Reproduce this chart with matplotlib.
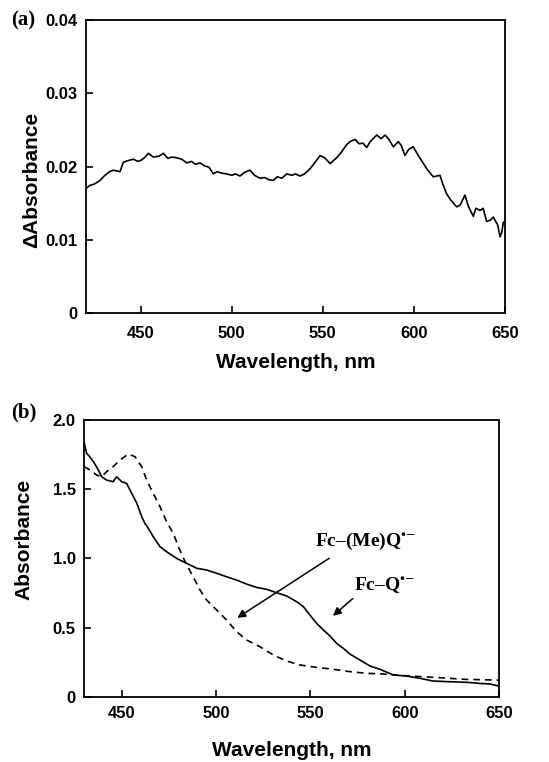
import matplotlib
matplotlib.use("Agg")
import matplotlib.pyplot as plt

# Panel (a): difference spectrum
wl_a = [420, 422, 424.5, 427.7, 430.4, 433, 435, 438.7, 440.5, 443,
        446, 448.5, 450.6, 452.5, 454.2, 457, 460, 462.5, 465, 467,
        469.8, 472.5, 475.3, 478, 480, 482.6, 485, 487.5, 489.9, 492,
        494.5, 497.2, 500, 502, 504.5, 507, 510, 512.5, 515.5, 518,
        520.5, 522.8, 525, 527.5, 530.2, 533, 535, 537.5, 540, 543,
        545.5, 548.5, 551, 554, 557.6, 560, 563.1, 565, 567.7, 570,
        572, 574.1, 576, 579.6, 582, 584.1, 586, 588.7, 591.4, 593,
        595.1, 597, 599.6, 602.4, 605, 607, 610.6, 614.3, 616, 617.9,
        620, 623.4, 625.3, 628, 630, 632.6, 634, 636.3, 638, 639.9,
        642, 643.6, 646, 647.3, 648.2, 649.1, 650]
dA = [0.0170, 0.0174, 0.0176, 0.0181, 0.0188, 0.0193, 0.0195, 0.0193, 0.0206, 0.0208,
      0.0210, 0.0207, 0.0209, 0.0213, 0.0218, 0.0213, 0.0214, 0.0218, 0.0211, 0.0213,
      0.0212, 0.0210, 0.0205, 0.0207, 0.0203, 0.0205, 0.0201, 0.0199, 0.0190, 0.0193,
      0.0191, 0.0190, 0.0188, 0.0190, 0.0187, 0.0192, 0.0195, 0.0188, 0.0184, 0.0185,
      0.0182, 0.0181, 0.0186, 0.0184, 0.0190, 0.0188, 0.0190, 0.0187, 0.0190, 0.0197,
      0.0205, 0.0215, 0.0212, 0.0204, 0.0212, 0.0219, 0.0230, 0.0234, 0.0237, 0.0231,
      0.0232, 0.0226, 0.0234, 0.0243, 0.0238, 0.0243, 0.0238, 0.0227, 0.0234, 0.0229,
      0.0215, 0.0223, 0.0227, 0.0215, 0.0205, 0.0197, 0.0186, 0.0188, 0.0175, 0.0163,
      0.0155, 0.0145, 0.0147, 0.0161, 0.0145, 0.0132, 0.0143, 0.0140, 0.0143, 0.0125,
      0.0127, 0.0131, 0.0120, 0.0104, 0.0110, 0.0124, 0.0124]

# Panel (b): absorption spectra
wl_solid = [430, 431.4, 433, 435, 437.6, 439.4, 442, 445.5, 447.3, 450,
            452.6, 455.3, 458, 460.6, 462.3, 464.1, 466.7, 470.3, 473.8, 479.1,
            484.4, 489.8, 495, 500.3, 505.6, 510.9, 516.2, 521.5, 526.8, 532.1,
            537.4, 542.7, 546.3, 549.8, 553.3, 556.9, 560.4, 563.9, 567.5, 571,
            576.3, 581.6, 586.9, 594, 601, 608.1, 615.2, 624, 632.8, 639.9,
            645.2, 650]
abs_solid = [1.843, 1.759, 1.735, 1.699, 1.639, 1.590, 1.566, 1.554, 1.590, 1.554,
             1.542, 1.470, 1.398, 1.301, 1.253, 1.217, 1.157, 1.084, 1.048, 1.000,
             0.964, 0.928, 0.916, 0.892, 0.867, 0.843, 0.814, 0.790, 0.776, 0.752,
             0.728, 0.687, 0.651, 0.590, 0.530, 0.482, 0.439, 0.386, 0.349, 0.308,
             0.265, 0.222, 0.198, 0.157, 0.149, 0.133, 0.113, 0.108, 0.104, 0.096,
             0.092, 0.077]
wl_dash = [430, 433.2, 436.7, 439.4, 442, 445.5, 449.1, 453.5, 457, 460.6,
           463.2, 466.7, 470.3, 473.8, 477.3, 480.8, 484.4, 487.9, 491.5, 495,
           500.3, 505.6, 510.9, 516.2, 523.3, 530.4, 537.4, 544.5, 553.3, 562.2,
           571, 579.9, 588.7, 597.5, 615.2, 632.8, 650]
abs_dash = [1.663, 1.639, 1.602, 1.590, 1.627, 1.663, 1.711, 1.754, 1.735, 1.663,
            1.566, 1.470, 1.373, 1.265, 1.181, 1.060, 0.952, 0.867, 0.771, 0.699,
            0.627, 0.554, 0.470, 0.410, 0.361, 0.301, 0.258, 0.229, 0.212, 0.198,
            0.181, 0.169, 0.164, 0.154, 0.140, 0.125, 0.120]

xticks = [450, 500, 550, 600, 650]
yticks_a = [0, 0.01, 0.02, 0.03, 0.04]
ytl_a = ["0", "0.01", "0.02", "0.03", "0.04"]
yticks_b = [0, 0.5, 1.0, 1.5, 2.0]
ytl_b = ["0", "0.5", "1.0", "1.5", "2.0"]

plt.rcParams['font.family'] = ['Liberation Sans', 'DejaVu Sans']
plt.rcParams['mathtext.fontset'] = 'stix'

fig = plt.figure(figsize=(5.49, 7.62), dpi=100)
axA = fig.add_axes([0.1566, 0.5892, 0.7633, 0.3845])
axB = fig.add_axes([0.1530, 0.0857, 0.7559, 0.3631])

def style(ax, yt, ytl, xpad, ypad):
    ax.set_xticks(xticks)
    ax.set_xticklabels([str(t) for t in xticks])
    ax.set_yticks(yt)
    ax.set_yticklabels(ytl)
    ax.tick_params(direction='in', length=5, width=1.2, labelsize=12)
    ax.tick_params(axis='x', pad=xpad)
    ax.tick_params(axis='y', pad=ypad)
    for lab in ax.get_xticklabels() + ax.get_yticklabels():
        lab.set_fontweight('bold')
    for s in ax.spines.values():
        s.set_linewidth(1.3)

axA.plot(wl_a, dA, color='black', lw=1.2)
axA.set_xlim(420, 650)
axA.set_ylim(0, 0.04)
style(axA, yticks_a, ytl_a, 9, 6)
axA.set_xlabel("Wavelength, nm", fontsize=15, fontweight='bold', labelpad=9)
axA.set_ylabel("\u0394Absorbance", fontsize=15, fontweight='bold', labelpad=3, y=0.454)
fig.text(0.020, 0.973, "(a)", family='Liberation Serif', fontweight='bold', fontsize=15, va='center')

axB.plot(wl_solid, abs_solid, color='black', lw=1.2)
axB.plot(wl_dash, abs_dash, color='black', lw=1.2, dashes=(4, 3))
axB.set_xlim(430, 650)
axB.set_ylim(0, 2.0)
style(axB, yticks_b, ytl_b, 7, 6)
axB.set_xlabel("Wavelength, nm", fontsize=15, fontweight='bold', labelpad=14)
axB.set_ylabel("Absorbance", fontsize=15, fontweight='bold', labelpad=14, y=0.57)
fig.text(0.020, 0.459, "(b)", family='Liberation Serif', fontweight='bold', fontsize=15, va='center')

axB.annotate("", xy=(510, 0.559), xytext=(561.3, 1.012),
             arrowprops=dict(arrowstyle='-|>', color='black', lw=1.1, mutation_scale=12))
axB.annotate("", xy=(560.9, 0.571), xytext=(573.6, 0.723),
             arrowprops=dict(arrowstyle='-|>', color='black', lw=1.1, mutation_scale=12))
axB.text(579.3, 1.12, "Fc\u2013(Me)Q$^{\\bullet\\!-}$", family='Liberation Serif', fontweight='bold',
         fontsize=14, ha='center', va='center')
axB.text(589.5, 0.807, "Fc\u2013Q$^{\\bullet\\!-}$", family='Liberation Serif', fontweight='bold',
         fontsize=14, ha='center', va='center')

fig.savefig("out.png", dpi=100)
